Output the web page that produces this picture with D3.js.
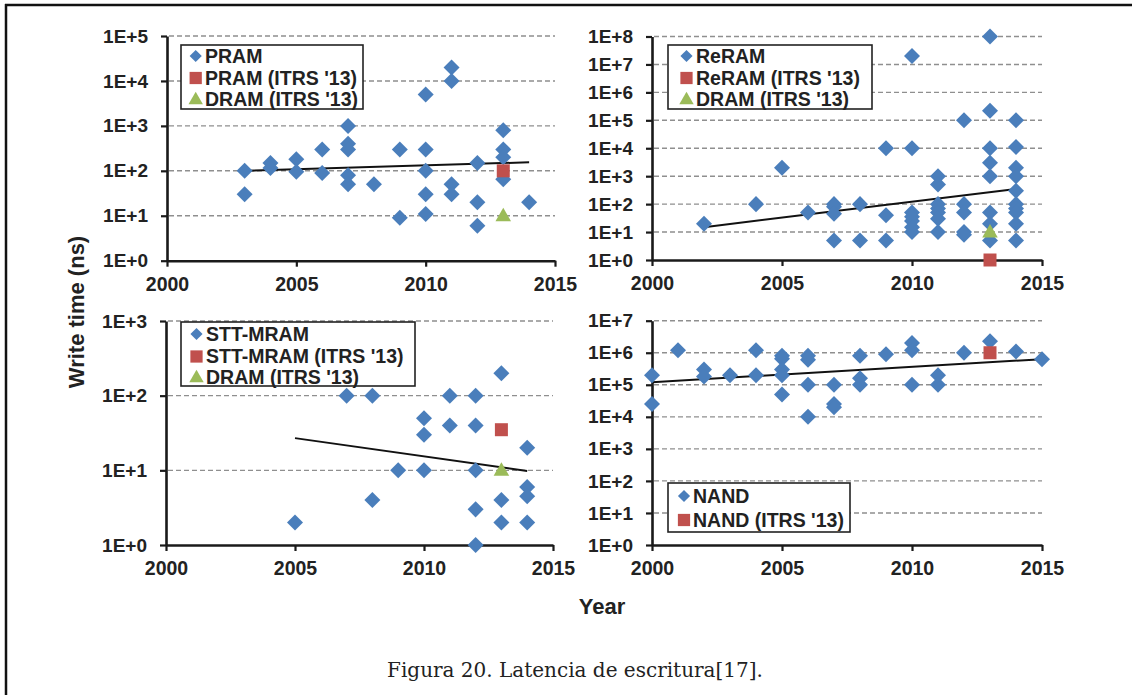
<!DOCTYPE html>
<html><head><meta charset="utf-8">
<script src="https://cdn.jsdelivr.net/npm/d3@7"></script>
<style>
html,body{margin:0;padding:0;background:#fff;}
svg{display:block;}
text{font-family:"Liberation Sans",Arial,sans-serif;font-weight:bold;fill:#222;}
</style></head>
<body>
<svg id="chart" width="1132" height="695"></svg>
<script>
// ---------- DATA ----------
const xTickYears = [2000, 2005, 2010, 2015];

// PRAM
const pramYears  = [2003,2003,2004,2004,2005,2005,2006,2006,2007,2007,2007,2007,2007,2008,2009,2009,2010,2010,2010,2010,2010,2011,2011,2011,2011,2012,2012,2012,2013,2013,2013,2013,2014];
const pramValues = [100,30,150,115,180,95,300,90,1000,400,300,80,50,50,300,9,5000,300,100,30,11,20000,10000,50,30,150,20,6,800,300,200,65,20];
const pramItrsYears = [2013], pramItrsValues = [100];
const pramDramYears = [2013], pramDramValues = [10];
const pramTrendYears = [2003, 2014], pramTrendValues = [100, 155];

// ReRAM
const reramYears  = [2002,2004,2005,2006,2007,2007,2007,2007,2008,2008,2009,2009,2009,2010,2010,2010,2010,2010,2010,2010,2011,2011,2011,2011,2011,2011,2011,2012,2012,2012,2012,2012,2013,2013,2013,2013,2013,2013,2013,2013,2014,2014,2014,2014,2014,2014,2014,2014,2014,2014];
const reramValues = [20,100,2000,50,100,80,45,5,100,5,10000,40,5,2e7,10000,50,35,25,15,10,1000,500,100,70,50,30,10,1e5,100,50,10,8,1e8,2.2e5,10000,3000,1000,50,20,5,1e5,11000,2000,1000,300,100,70,50,20,5];
const reramItrsYears = [2013], reramItrsValues = [1];
const reramDramYears = [2013], reramDramValues = [10];
const reramTrendYears = [2002, 2014], reramTrendValues = [15, 350];

// STT-MRAM
const sttYears  = [2005,2007,2008,2008,2009,2010,2010,2010,2011,2011,2012,2012,2012,2012,2012,2013,2013,2013,2014,2014,2014,2014];
const sttValues = [2,100,100,4,10,50,30,10,100,40,100,40,10,3,1,200,4,2,20,6,4.5,2];
const sttItrsYears = [2013], sttItrsValues = [35];
const sttDramYears = [2013], sttDramValues = [10];
const sttTrendYears = [2005, 2014], sttTrendValues = [27, 9.8];

// NAND
const nandYears  = [2000,2000,2001,2002,2002,2003,2004,2004,2005,2005,2005,2005,2005,2006,2006,2006,2006,2007,2007,2007,2008,2008,2008,2009,2010,2010,2010,2011,2011,2012,2013,2014,2015];
const nandValues = [2e5,2.5e4,1.2e6,3e5,1.8e5,2e5,1.2e6,2e5,8e5,6.5e5,3e5,2e5,5e4,8e5,6e5,1e5,1e4,1e5,2.5e4,2e4,8e5,1.6e5,1e5,9e5,2e6,1.2e6,1e5,2e5,1e5,1e6,2.3e6,1.1e6,6.3e5];
const nandItrsYears = [2013], nandItrsValues = [1e6];
const nandTrendYears = [2000, 2015], nandTrendValues = [1.2e5, 6.3e5];

// ---------- STYLE ----------
const BLUE = "#4a7ebb", RED = "#c0504d", GREEN = "#9bbb59";

const svg = d3.select("#chart");

// frame
svg.append("line").attr("x1",5).attr("x2",1132).attr("y1",5).attr("y2",5).attr("stroke","#111").attr("stroke-width",2.5);
svg.append("line").attr("x1",6).attr("x2",6).attr("y1",4).attr("y2",695).attr("stroke","#111").attr("stroke-width",2.5);

const panels = [
  {x0:167, x1:555, yTop:36, yBot:260.7, maxExp:5,
   series:[[pramYears,pramValues,"d"],[pramItrsYears,pramItrsValues,"s"],[pramDramYears,pramDramValues,"t"]],
   trend:[pramTrendYears,pramTrendValues],
   legend:{x:181,y:45,w:182,h:64,mx:195.7,tx:205,rows:[56,78,99],labels:["PRAM","PRAM (ITRS '13)","DRAM (ITRS '13)"],kinds:["d","s","t"]}},
  {x0:652, x1:1042, yTop:36.5, yBot:260, maxExp:8,
   series:[[reramYears,reramValues,"d"],[reramDramYears,reramDramValues,"t"],[reramItrsYears,reramItrsValues,"s"]],
   trend:[reramTrendYears,reramTrendValues],
   legend:{x:668,y:45,w:204,h:64,mx:686.5,tx:696,rows:[56,78,99],labels:["ReRAM","ReRAM (ITRS '13)","DRAM (ITRS '13)"],kinds:["d","s","t"]}},
  {x0:166, x1:553, yTop:321, yBot:545, maxExp:3,
   series:[[sttYears,sttValues,"d"],[sttItrsYears,sttItrsValues,"s"],[sttDramYears,sttDramValues,"t"]],
   trend:[sttTrendYears,sttTrendValues],
   legend:{x:181,y:322,w:234,h:64,mx:196.5,tx:206,rows:[334,356.5,377],labels:["STT-MRAM","STT-MRAM (ITRS '13)","DRAM (ITRS '13)"],kinds:["d","s","t"]}},
  {x0:652, x1:1042, yTop:320.7, yBot:545, maxExp:7,
   series:[[nandYears,nandValues,"d"],[nandItrsYears,nandItrsValues,"s"]],
   trend:[nandTrendYears,nandTrendValues],
   legend:{x:668,y:483,w:182,h:49,mx:684,tx:693,rows:[496,520],labels:["NAND","NAND (ITRS '13)"],kinds:["d","s"]}}
];

const diamond = d3.symbol().type(d3.symbolSquare).size(128)();
const diamondSmall = d3.symbol().type(d3.symbolSquare).size(74)();
const square = d3.symbol().type(d3.symbolSquare).size(169)();
const squareSmall = d3.symbol().type(d3.symbolSquare).size(150)();
const tri = d3.symbol().type(d3.symbolTriangle).size(105)();
const triSmall = d3.symbol().type(d3.symbolTriangle).size(90)();

function drawMark(g, kind, x, y, small){
  if(kind==="d") g.append("path").attr("d", small?diamondSmall:diamond).attr("fill",BLUE).attr("transform",`translate(${x},${y}) rotate(45)`);
  else if(kind==="s") g.append("path").attr("d", small?squareSmall:square).attr("fill",RED).attr("transform",`translate(${x},${y})`);
  else g.append("path").attr("d", small?triSmall:tri).attr("fill",GREEN).attr("transform",`translate(${x},${y+1})`);
}

panels.forEach(p=>{
  const g = svg.append("g");
  const x = d3.scaleLinear().domain([2000,2015]).range([p.x0,p.x1]);
  const y = d3.scaleLog().domain([1, Math.pow(10,p.maxExp)]).range([p.yBot,p.yTop]);
  const tickVals = d3.range(0,p.maxExp+1).map(e=>Math.pow(10,e));

  // grid
  g.append("g").selectAll("line").data(tickVals.slice(1)).join("line")
    .attr("x1",p.x0+2).attr("x2",p.x1).attr("y1",d=>y(d)).attr("y2",d=>y(d))
    .attr("stroke","#8f8f8f").attr("stroke-width",1.4).attr("stroke-dasharray","5,3");

  // axes
  const ya = g.append("g").attr("transform",`translate(${p.x0},0)`)
    .call(d3.axisLeft(y).tickValues(tickVals).tickSize(6).tickSizeOuter(0).tickPadding(13)
      .tickFormat(d=>"1E+"+Math.round(Math.log10(d))));
  const xa = g.append("g").attr("transform",`translate(0,${p.yBot})`)
    .call(d3.axisBottom(x).tickValues(xTickYears).tickSize(6).tickSizeOuter(0).tickPadding(10).tickFormat(d3.format("d")));
  [ya,xa].forEach(a=>{
    a.select(".domain").attr("stroke","#1a1a1a").attr("stroke-width",2.6);
    a.selectAll(".tick line").attr("stroke","#1a1a1a").attr("stroke-width",2.2);
    a.selectAll(".tick text").attr("font-family","'Liberation Sans',Arial,sans-serif").attr("font-weight","bold").attr("fill","#222");
  });
  ya.selectAll(".tick text").attr("font-size",19);
  xa.selectAll(".tick text").attr("font-size",19.5);

  // trend
  const tr = p.trend[0].map((yr,i)=>[yr,p.trend[1][i]]);
  g.append("path").datum(tr).attr("fill","none").attr("stroke","#111").attr("stroke-width",2)
    .attr("d", d3.line().x(d=>x(d[0])).y(d=>y(d[1])));

  // points
  p.series.forEach(s=>{
    const pts = s[0].map((yr,i)=>[yr,s[1][i]]);
    const gg = g.append("g");
    pts.forEach(d=>drawMark(gg, s[2], x(d[0]), y(d[1]), false));
  });

  // legend
  const L = p.legend;
  g.append("rect").attr("x",L.x).attr("y",L.y).attr("width",L.w).attr("height",L.h)
    .attr("fill","#fff").attr("stroke","#222").attr("stroke-width",1.6);
  L.labels.forEach((lab,i)=>{
    drawMark(g, L.kinds[i], L.mx, L.rows[i], true);
    g.append("text").attr("x",L.tx).attr("y",L.rows[i]).attr("dy","0.35em")
      .attr("font-size",19.5).text(lab);
  });
});

// axis titles
svg.append("text").attr("transform","translate(76,312) rotate(-90)").attr("text-anchor","middle")
  .attr("dy","0.35em").attr("font-size",22).text("Write time (ns)");
svg.append("text").attr("x",602).attr("y",606).attr("text-anchor","middle").attr("dy","0.35em")
  .attr("font-size",22).text("Year");

// caption
svg.append("text").attr("x",575).attr("y",677).attr("text-anchor","middle")
  .style("font-family","'DejaVu Serif',Georgia,serif").style("font-weight","normal")
  .attr("font-size",20).attr("fill","#111").text("Figura 20. Latencia de escritura[17].");
</script>
</body></html>
